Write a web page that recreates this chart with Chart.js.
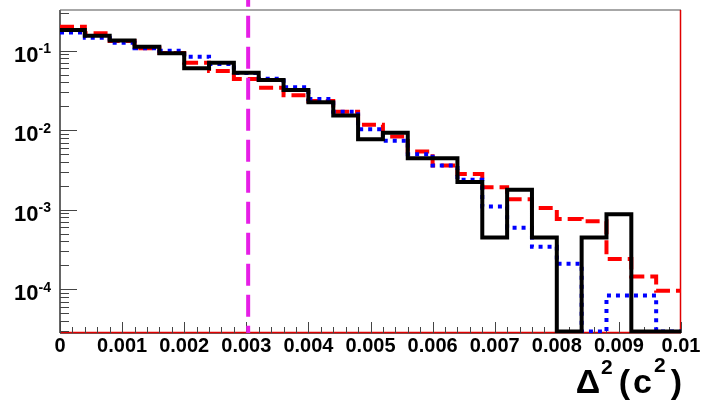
<!DOCTYPE html>
<html>
<head>
    <meta charset="UTF-8">
    <title>Delta squared</title>
    <script src="https://cdn.jsdelivr.net/npm/chart.js@4.4.0/dist/chart.umd.min.js"></script>
    <style>
        body { margin: 0; background: white; }
        #holder { width: 702px; height: 401px; }
    </style>
</head>
<body>
<div id="holder"><canvas id="delta-chart" width="702" height="401"></canvas></div>
<script>
// histogram bins: low edges, 25 bins of 0.0004
var binEdges = [0, 0.0004, 0.0008, 0.0012, 0.0016, 0.002, 0.0024, 0.0028, 0.0032, 0.0036,
                0.004, 0.0044, 0.0048, 0.0052, 0.0056, 0.006, 0.0064, 0.0068, 0.0072, 0.0076,
                0.008, 0.0084, 0.0088, 0.0092, 0.0096];
var xEnd = 0.01;

// bin contents (0 = empty bin)
var blackVals = [0.182, 0.154, 0.134, 0.112, 0.0927, 0.0601, 0.0707, 0.053, 0.0429, 0.0321,
                 0.0225, 0.0153, 0.0077, 0.00933, 0.00445, 0.00445, 0.00224, 0.000448, 0.00178, 0.000448,
                 0, 0.000448, 0.00088, 0, 0];
var redVals = [0.200, 0.166, 0.132, 0.107, 0.0936, 0.0707, 0.0556, 0.0441, 0.0343, 0.0275,
               0.0233, 0.0171, 0.0117, 0.00832, 0.00539, 0.00359, 0.00282, 0.00192, 0.00136, 0.00105,
               0.000763, 0.000719, 0.000240, 0.000145, 0.0000957];
var blueVals = [0.170, 0.146, 0.126, 0.107, 0.100, 0.0841, 0.0681, 0.0525, 0.0445, 0.0347,
                0.0247, 0.0171, 0.0103, 0.0074, 0.00499, 0.00359, 0.00238, 0.0011, 0.000593, 0.000342,
                0.000209, 0, 0.0000836, 0.0000836, 0];

var cutValue = 0.00303;   // vertical cut line
var yMin = 2.82e-5, yMax = 0.325;
var zeroLevel = 2.95e-5;  // where empty bins are drawn (frame bottom)
var xTickLabels = ['0', '0.001', '0.002', '0.003', '0.004', '0.005', '0.006', '0.007', '0.008', '0.009', '0.01'];
var yDecades = [-1, -2, -3, -4];

var FONT = '"Liberation Sans", Arial, sans-serif';

// empty bins sit on the bottom of the frame, like ROOT does
function histPoints(vals) {
    var pts = binEdges.map(function (x, i) {
        return {x: x, y: vals[i] > 0 ? vals[i] : zeroLevel};
    });
    pts.push({x: xEnd, y: pts[pts.length - 1].y});
    return pts;
}

// ROOT-like frame, inward ticks and labels
var rootAxes = {
    id: 'rootAxes',
    beforeDraw: function (c) {
        var ctx = c.ctx;
        ctx.fillStyle = 'white';
        ctx.fillRect(0, 0, c.width, c.height);
    },
    beforeDatasetsDraw: function (c) {
        var ctx = c.ctx, a = c.chartArea, xs = c.scales.x, ys = c.scales.y;
        ctx.save();

        // frame
        ctx.strokeStyle = '#8a8a8a';
        ctx.lineWidth = 1.5;
        ctx.beginPath(); ctx.moveTo(a.left, a.top); ctx.lineTo(a.right, a.top); ctx.stroke();
        ctx.strokeStyle = '#666';
        ctx.lineWidth = 2;
        ctx.beginPath(); ctx.moveTo(a.left, a.top); ctx.lineTo(a.left, a.bottom); ctx.stroke();
        ctx.beginPath(); ctx.moveTo(a.left, a.bottom); ctx.lineTo(a.right, a.bottom); ctx.stroke();
        ctx.strokeStyle = '#e00000';
        ctx.lineWidth = 1.5;
        ctx.beginPath(); ctx.moveTo(a.left, a.bottom - 0.5); ctx.lineTo(a.right, a.bottom - 0.5); ctx.stroke();
        ctx.beginPath(); ctx.moveTo(a.right - 0.5, a.top); ctx.lineTo(a.right - 0.5, a.bottom); ctx.stroke();

        // y ticks (log)
        ctx.strokeStyle = '#444';
        ctx.lineWidth = 1;
        for (var e = -5; e <= 0; e++) {
            for (var m = 1; m < 10; m++) {
                var v = m * Math.pow(10, e);
                if (v < yMin || v > yMax) continue;
                var py = Math.round(ys.getPixelForValue(v)) + 0.5;
                ctx.beginPath();
                ctx.moveTo(a.left, py);
                ctx.lineTo(a.left + (m === 1 ? 17 : 9), py);
                ctx.stroke();
            }
        }
        // x ticks
        for (var i = 0; i <= 50; i++) {
            var px = Math.round(xs.getPixelForValue(i * 0.0002)) + 0.5;
            ctx.beginPath();
            ctx.moveTo(px, a.bottom);
            ctx.lineTo(px, a.bottom - (i % 5 === 0 ? 11 : 6));
            ctx.stroke();
        }
        ctx.restore();
    },
    afterDraw: function (c) {
        var ctx = c.ctx, xs = c.scales.x, ys = c.scales.y;
        ctx.save();
        ctx.fillStyle = 'black';
        ctx.textBaseline = 'alphabetic';

        // y labels 10^k
        yDecades.forEach(function (k) {
            var py = ys.getPixelForValue(Math.pow(10, k));
            var sup = '-' + Math.abs(k);
            ctx.font = 'bold 14px ' + FONT;
            ctx.textAlign = 'right';
            var sw = ctx.measureText(sup).width;
            ctx.fillText(sup, 51, py + 2.5);
            ctx.font = 'bold 22px ' + FONT;
            ctx.fillText('10', 51 - sw, py + 11);
        });

        // x labels
        ctx.font = 'bold 20px ' + FONT;
        ctx.textAlign = 'center';
        xTickLabels.forEach(function (t, i) {
            ctx.fillText(t, xs.getPixelForValue(i * 0.001), 352);
        });

        // axis title: Delta^2 (c^2), right end at the frame edge
        var parts = [
            {t: '\u0394', size: 34, dy: 0, gap: 1},
            {t: '2', size: 21, dy: -19, gap: 6},
            {t: '(', size: 34, dy: 0, gap: 3},
            {t: 'c', size: 34, dy: 0, gap: 2},
            {t: '2', size: 21, dy: -21, gap: 5},
            {t: ')', size: 34, dy: 0, gap: 0}
        ];
        var total = 0;
        parts.forEach(function (p) {
            ctx.font = 'bold ' + p.size + 'px ' + FONT;
            p.w = ctx.measureText(p.t).width;
            total += p.w + p.gap;
        });
        var tx = 682 - total;
        ctx.textAlign = 'left';
        parts.forEach(function (p) {
            ctx.font = 'bold ' + p.size + 'px ' + FONT;
            ctx.fillText(p.t, tx, 393 + p.dy);
            tx += p.w + p.gap;
        });

        ctx.restore();
    }
};

var chartCtx = document.getElementById('delta-chart').getContext('2d');
var deltaChart = new Chart(chartCtx, {
    type: 'line',
    data: {
        datasets: [{
            label: 'cut',
            data: [{x: cutValue, y: 10}, {x: cutValue, y: yMin}],
            borderColor: '#e61ee6',
            borderWidth: 4,
            borderDash: [22, 9],
            borderCapStyle: 'butt',
            pointRadius: 0,
            clip: {left: 5, right: 5, top: 10, bottom: 0},
            order: 0
        }, {
            label: 'black',
            data: histPoints(blackVals),
            stepped: 'before',
            borderColor: '#000000',
            borderWidth: 4,
            borderJoinStyle: 'miter',
            pointRadius: 0,
            order: 1
        }, {
            label: 'blue',
            data: histPoints(blueVals),
            stepped: 'before',
            borderColor: '#0000ff',
            borderWidth: 4,
            borderDash: [4, 5],
            borderCapStyle: 'butt',
            pointRadius: 0,
            order: 2
        }, {
            label: 'red',
            data: histPoints(redVals),
            stepped: 'before',
            borderColor: '#ff0000',
            borderWidth: 4,
            borderDash: [14, 6],
            borderCapStyle: 'butt',
            pointRadius: 0,
            order: 3
        }]
    },
    options: {
        responsive: false,
        animation: false,
        layout: {padding: {left: 60, top: 10, right: 21, bottom: 68}},
        plugins: {legend: {display: false}, tooltip: {enabled: false}},
        scales: {
            x: {type: 'linear', min: 0, max: xEnd, display: false},
            y: {type: 'logarithmic', min: yMin, max: yMax, display: false}
        }
    },
    plugins: [rootAxes]
});
</script>
</body>
</html>
